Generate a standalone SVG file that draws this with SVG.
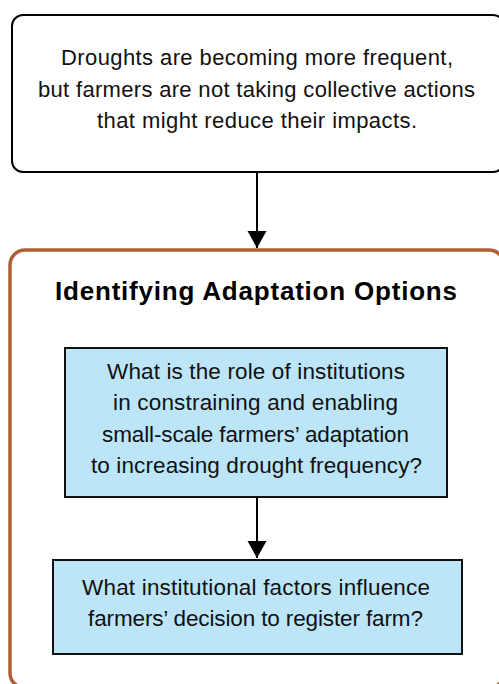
<svg xmlns="http://www.w3.org/2000/svg" width="499" height="684" viewBox="0 0 499 684">
<defs>
<style>
.txt{font-family:"Liberation Sans","Noto Sans",Arial,sans-serif;fill:#111;text-anchor:middle;}
.t20{font-size:22px;}
.t22{font-size:22.5px;}
.title{font-family:"Liberation Sans",Arial,sans-serif;font-weight:bold;font-size:26px;fill:#000;text-anchor:middle;}
.q{fill:#bde5f8;stroke:#111;stroke-width:2;}
.edge{stroke:#000;stroke-width:2;fill:none;}
</style>
<marker id="arr" viewBox="0 0 17 21" refX="17" refY="10.5" markerWidth="17" markerHeight="21" markerUnits="userSpaceOnUse" orient="auto">
<path d="M0,1 L17,10.5 L0,20 Z" fill="#000"/>
</marker>
</defs>
<rect width="499" height="684" fill="#fff"/>
<g id="problem">
<rect x="12" y="15" width="492" height="157" rx="11" fill="#fff" stroke="#000" stroke-width="2"/>
<text class="txt t20" x="257" y="65" textLength="392">Droughts are becoming more frequent,</text>
<text class="txt t20" x="256.5" y="97" textLength="437">but farmers are not taking collective actions</text>
<text class="txt t20" x="257" y="128" textLength="320">that might reduce their impacts.</text>
</g>
<g id="adaptation">
<rect x="10" y="250" width="494" height="438" rx="15" fill="#fff" stroke="#ae6035" stroke-width="3.5"/>
<text class="title" x="256" y="300" textLength="402">Identifying Adaptation Options</text>
</g>
<g id="q1">
<rect class="q" x="65" y="348" width="382" height="149"/>
<text class="txt t22" x="256" y="379" textLength="298">What is the role of institutions</text>
<text class="txt t22" x="255.5" y="410" textLength="285">in constraining and enabling</text>
<text class="txt t22" x="255.5" y="442" textLength="307">small-scale farmers’ adaptation</text>
<text class="txt t22" x="256.5" y="473" textLength="331">to increasing drought frequency?</text>
</g>
<g id="q2">
<rect class="q" x="53" y="560" width="409" height="94"/>
<text class="txt t22" x="256" y="595" textLength="348">What institutional factors influence</text>
<text class="txt t22" x="255.5" y="626" textLength="335">farmers’ decision to register farm?</text>
</g>
<g id="connectors">
<line class="edge" x1="257" y1="172" x2="257" y2="248" marker-end="url(#arr)"/>
<line class="edge" x1="257" y1="498" x2="257" y2="558" marker-end="url(#arr)"/>
</g>
</svg>
